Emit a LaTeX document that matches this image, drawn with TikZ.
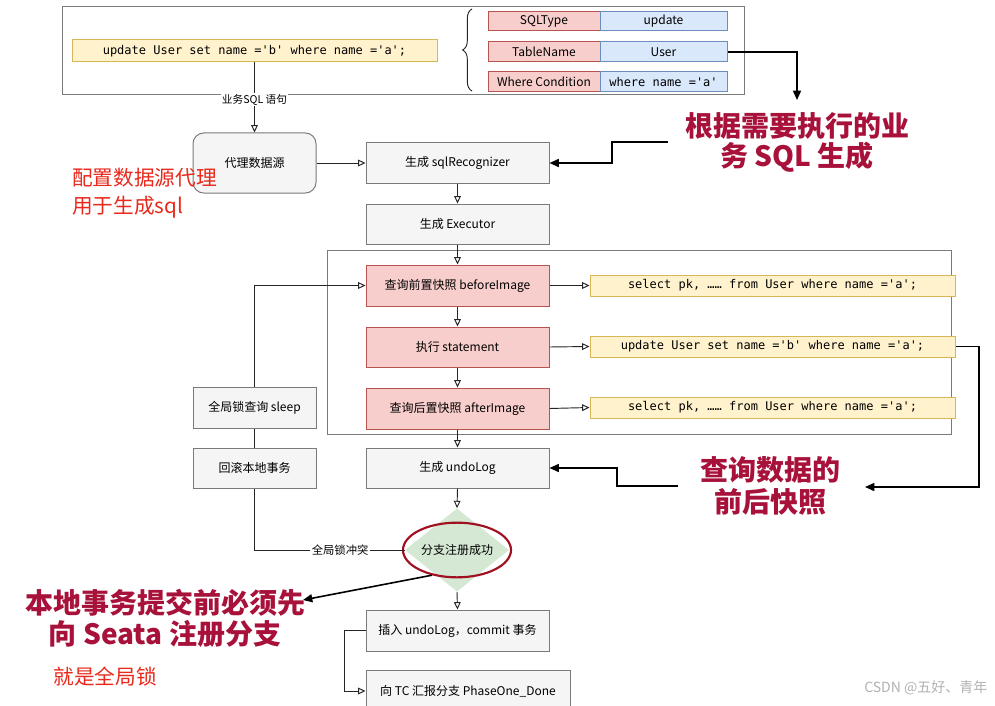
\documentclass[tikz,border=0pt]{standalone}
\usepackage{fontspec}
\setmainfont{Noto Sans CJK SC}
\newfontfamily\monof{DejaVu Sans Mono}
\usetikzlibrary{arrows.meta,shapes.geometric,fit,decorations.pathreplacing}
\definecolor{pinkf}{HTML}{F8CECC}\definecolor{pinkd}{HTML}{B85450}
\definecolor{bluef}{HTML}{DAE8FC}\definecolor{blued}{HTML}{6C8EBF}
\definecolor{yelf}{HTML}{FFF2CC}\definecolor{yeld}{HTML}{D6B656}
\definecolor{grayf}{HTML}{F5F5F5}\definecolor{grayd}{HTML}{7A7A7A}
\definecolor{greenf}{HTML}{D5E8D4}
\definecolor{crim}{HTML}{A8123A}
\definecolor{redt}{HTML}{E8291C}
\definecolor{ringc}{HTML}{A01020}
\tikzset{
  box/.style={draw=grayd, line width=0.75pt, fill=grayf, inner sep=0pt},
  pinkbox/.style={box, fill=pinkf, draw=pinkd},
  bluebox/.style={box, fill=bluef, draw=blued},
  yelbox/.style={box, fill=yelf, draw=yeld},
  tl/.style={font=\fontsize{9}{11}\selectfont, inner sep=0pt},
  ml/.style={font=\monof\fontsize{9}{11}\selectfont, inner sep=0pt},
  flow/.style={draw=black!85, line width=0.7pt, -{Triangle[open,length=5.5pt,width=5pt]}},
  plain/.style={draw=black!85, line width=0.7pt},
  annarrow/.style={draw=black, line width=1.2pt, -{Triangle[length=7pt,width=6pt]}},
  anntext/.style={text=crim, align=center},
  redtext/.style={text=redt, font=\fontsize{15.5}{21}\selectfont},
}
\begin{document}
\begin{tikzpicture}[x=0.75pt,y=-0.75pt]
\useasboundingbox (0,0) rectangle (995,706);
\clip (0,0) rectangle (995,706);
\fill[white] (0,0) rectangle (995,706);

% top box
\node[draw=grayd, line width=0.75pt, inner sep=0pt, fit={(62,7) (744,95)}] (top) {};
\node[yelbox, fit={(72,40) (437,62)}, label={[ml]center:{update User set name ='b' where name ='a';}}] (sql1) {};
\draw[plain, decorate, decoration={brace, amplitude=7pt}] (472,91) -- (472,9);
\node[pinkbox, fit={(488,12) (600,31)}, label={[tl]center:{SQLType}}] (t1a) {};
\node[bluebox, fit={(600,12) (727,31)}, label={[tl]center:{update}}] (t1b) {};
\node[pinkbox, fit={(488,42) (600,62)}, label={[tl]center:{TableName}}] (t2a) {};
\node[bluebox, fit={(600,42) (727,62)}, label={[tl]center:{User}}] (t2b) {};
\node[pinkbox, fit={(488,72) (600,92)}, label={[tl]center:{Where Condition}}] (t3a) {};
\node[bluebox, fit={(600,72) (727,92)}, label={[ml]center:{where name ='a'}}] (t3b) {};

% annotation 1
\coordinate (a1end) at (797,100);
\draw[annarrow] (t2b.east) -| (a1end);
\node[anntext, font=\fontsize{21}{22.5}\selectfont\bfseries] (ann1) at (797,142) {根据需要执行的业\\务 SQL 生成};

% proxy and main flow
\node[box, rounded corners=8pt, fit={(193,133) (316,193)}, label={[tl]center:{代理数据源}}] (proxy) {};
\node[box, fit={(366,143) (549,183)}, label={[tl]center:{生成 sqlRecognizer}}] (rec) {};
\node[box, fit={(366,204) (549,244)}, label={[tl]center:{生成 Executor}}] (exe) {};
\draw[flow] (sql1.south -| proxy.north) -- node[fill=white, inner sep=1pt, font=\fontsize{8}{9}\selectfont, pos=0.53] (lab1) {业务SQL 语句} (proxy.north);
\draw[flow] (proxy.east |- rec.west) -- (rec.west);
\draw[flow] (rec.south) -- (exe.north);

\coordinate (a1s) at (668,142);
\draw[annarrow] (a1s) -- (612,142) |- (rec.east);

% group
\node[draw=grayd, line width=0.75pt, inner sep=0pt, fit={(327,250) (951,434)}] (grp) {};
\node[pinkbox, fit={(366,265) (549,306)}, label={[tl]center:{查询前置快照 beforeImage}}] (before) {};
\node[pinkbox, fit={(366,327) (549,367)}, label={[tl]center:{执行 statement}}] (stmt) {};
\node[pinkbox, fit={(366,388) (549,429)}, label={[tl]center:{查询后置快照 afterImage}}] (after) {};
\node[yelbox, fit={(590,275) (955,296)}, label={[ml]center:{select pk, …… from User where name ='a';}}] (y1) {};
\node[yelbox, fit={(590,336) (955,357)}, label={[ml]center:{update User set name ='b' where name ='a';}}] (y2) {};
\node[yelbox, fit={(590,397) (955,418)}, label={[ml]center:{select pk, …… from User where name ='a';}}] (y3) {};
\draw[flow] (exe.south) -- (before.north);
\draw[flow] (before.south) -- (stmt.north);
\draw[flow] (stmt.south) -- (after.north);
\draw[flow] (before.east) -- (y1.west);
\draw[flow] (stmt.east) -- (y2.west);
\draw[flow] (after.east) -- (y3.west);

% undo
\node[box, fit={(366,448) (549,488)}, label={[tl]center:{生成 undoLog}}] (undo) {};
\draw[flow] (after.south) -- (undo.north);

% annotation 2
\coordinate (a2end) at (865,487);
\draw[annarrow] (y2.east) -- (979,346.5) |- (a2end);
\node[anntext, font=\fontsize{21}{24}\selectfont\bfseries] (ann2) at (770,486) {查询数据的\\前后快照};
\coordinate (a2s) at (678,486);
\draw[annarrow] (a2s) -- (617,486) |- (undo.east);

% diamond
\node[diamond, fill=greenf, inner sep=0pt, minimum width=78pt, minimum height=57pt, font=\fontsize{9}{11}\selectfont] (dia) at (457,550) {分支注册成功};
\node[ellipse, draw=ringc, line width=1.6pt, minimum width=81pt, minimum height=41pt] (ring) at (457,550) {};
\draw[flow] (undo.south) -- (dia.north);

% left boxes
\node[box, fit={(193,387) (316,428)}, label={[tl]center:{全局锁查询 sleep}}] (sleep) {};
\node[box, fit={(193,448) (316,488)}, label={[tl]center:{回滚本地事务}}] (roll) {};
\draw[plain] (dia.west) -- node[fill=white, inner sep=1pt, font=\fontsize{8.5}{10}\selectfont, pos=0.43] (lab2) {全局锁冲突} (roll.south |- dia.west) -- (roll.south);
\draw[plain] (roll.north) -- (sleep.south);
\draw[flow] (sleep.north) |- (before.west);

% bottom
\node[box, fit={(366,610) (549,651)}, label={[tl]center:{插入 undoLog，commit 事务}}] (ins) {};
\node[box, fit={(366,670) (570,712)}] (phase) {};
\node[tl] (phasetxt) at (468,691) {向 TC 汇报分支 PhaseOne\_Done};
\draw[flow] (dia.south) -- (ins.north);
\draw[flow] (ins.west) -- ++(-21,0) |- (phase.west);

% annotation 3
\coordinate (a3end) at (303,600);
\draw[annarrow] (ring.225) -- (a3end);
\node[anntext, font=\fontsize{21}{23}\selectfont\bfseries] (ann3) at (165,618) {本地事务提交前必须先\\向 Seata 注册分支};

% red notes
\node[redtext, anchor=north west, align=left, inner sep=0pt] (note1) at (72,168) {配置数据源代理\\用于生成sql};
\node[redtext, inner sep=0pt] (note2) at (105,677) {就是全局锁};

% watermark
\node[text=black!30, font=\fontsize{10.5}{12}\selectfont, anchor=east] (wm) at (992,688) {CSDN @五好、青年};
\end{tikzpicture}
\end{document}
